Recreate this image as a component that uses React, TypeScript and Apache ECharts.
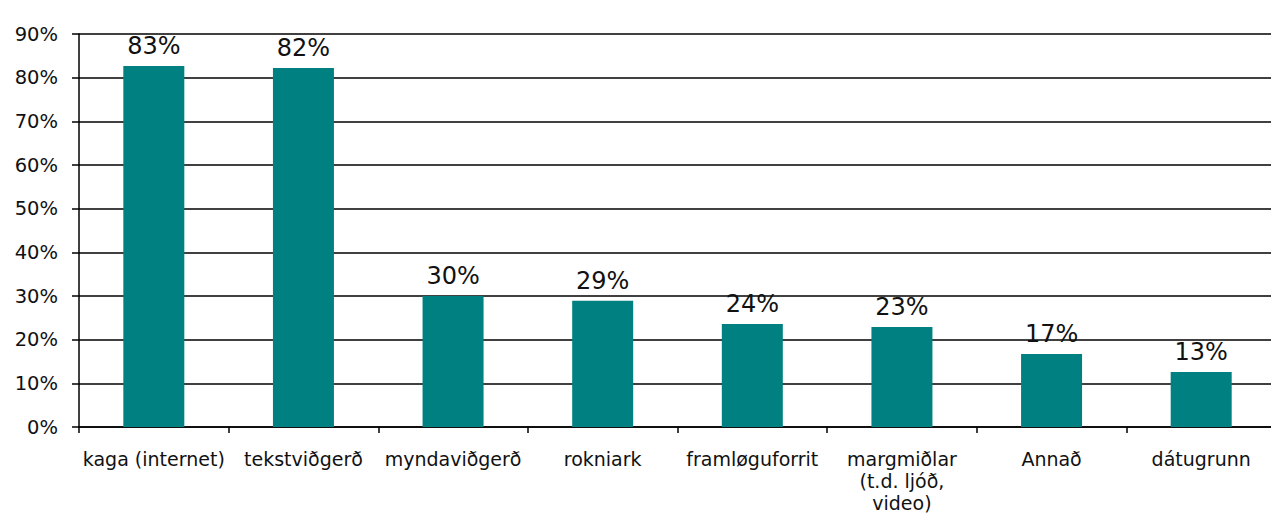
import React, { useEffect, useRef } from "react";
import * as echarts from "echarts";

const categories = [
  "kaga (internet)",
  "tekstviðgerð",
  "myndaviðgerð",
  "rokniark",
  "framløguforrit",
  "margmiðlar\n(t.d. ljóð,\nvideo)",
  "Annað",
  "dátugrunn",
];
const values = [82.7, 82.2, 30.0, 28.9, 23.6, 22.9, 16.7, 12.6];
const labels = ["83%", "82%", "30%", "29%", "24%", "23%", "17%", "13%"];

export default function App() {
  const ref = useRef<HTMLDivElement>(null);
  useEffect(() => {
    document.body.style.margin = "0";
    const chart = echarts.init(ref.current!, null, { renderer: "svg" });
    const font = "DejaVu Sans, Verdana, sans-serif";
    chart.setOption({
      animation: false,
      backgroundColor: "#fff",
      grid: {
        left: 79,
        top: 34,
        width: 1197,
        height: 393,
        containLabel: false,
        outerBoundsMode: "none",
      },
      xAxis: {
        type: "category",
        data: categories,
        boundaryGap: true,
        axisLine: { lineStyle: { color: "#000", width: 1.5 } },
        axisTick: { show: true, length: 6, lineStyle: { color: "#000", width: 1.5 } },
        axisLabel: {
          color: "#111",
          fontFamily: font,
          fontSize: 19,
          lineHeight: 22,
          margin: 21,
          interval: 0,
        },
      },
      yAxis: {
        type: "value",
        min: 0,
        max: 90,
        interval: 10,
        axisLine: { show: true, lineStyle: { color: "#000", width: 1.5 } },
        axisTick: { show: true, length: 7, lineStyle: { color: "#000", width: 1.5 } },
        axisLabel: {
          color: "#111",
          fontFamily: font,
          fontSize: 19.5,
          margin: 21,
          formatter: "{value}%",
        },
        splitLine: { lineStyle: { color: "#000", width: 1.5 } },
      },
      series: [
        {
          type: "bar",
          data: values,
          barWidth: 61,
          itemStyle: { color: "#008080" },
          label: {
            show: true,
            position: "top",
            distance: 8,
            color: "#111",
            fontFamily: font,
            fontSize: 24,
            formatter: (p: any) => labels[p.dataIndex],
          },
        },
      ],
    });
    return () => chart.dispose();
  }, []);
  return <div ref={ref} style={{ width: 1271, height: 516 }} />;
}
